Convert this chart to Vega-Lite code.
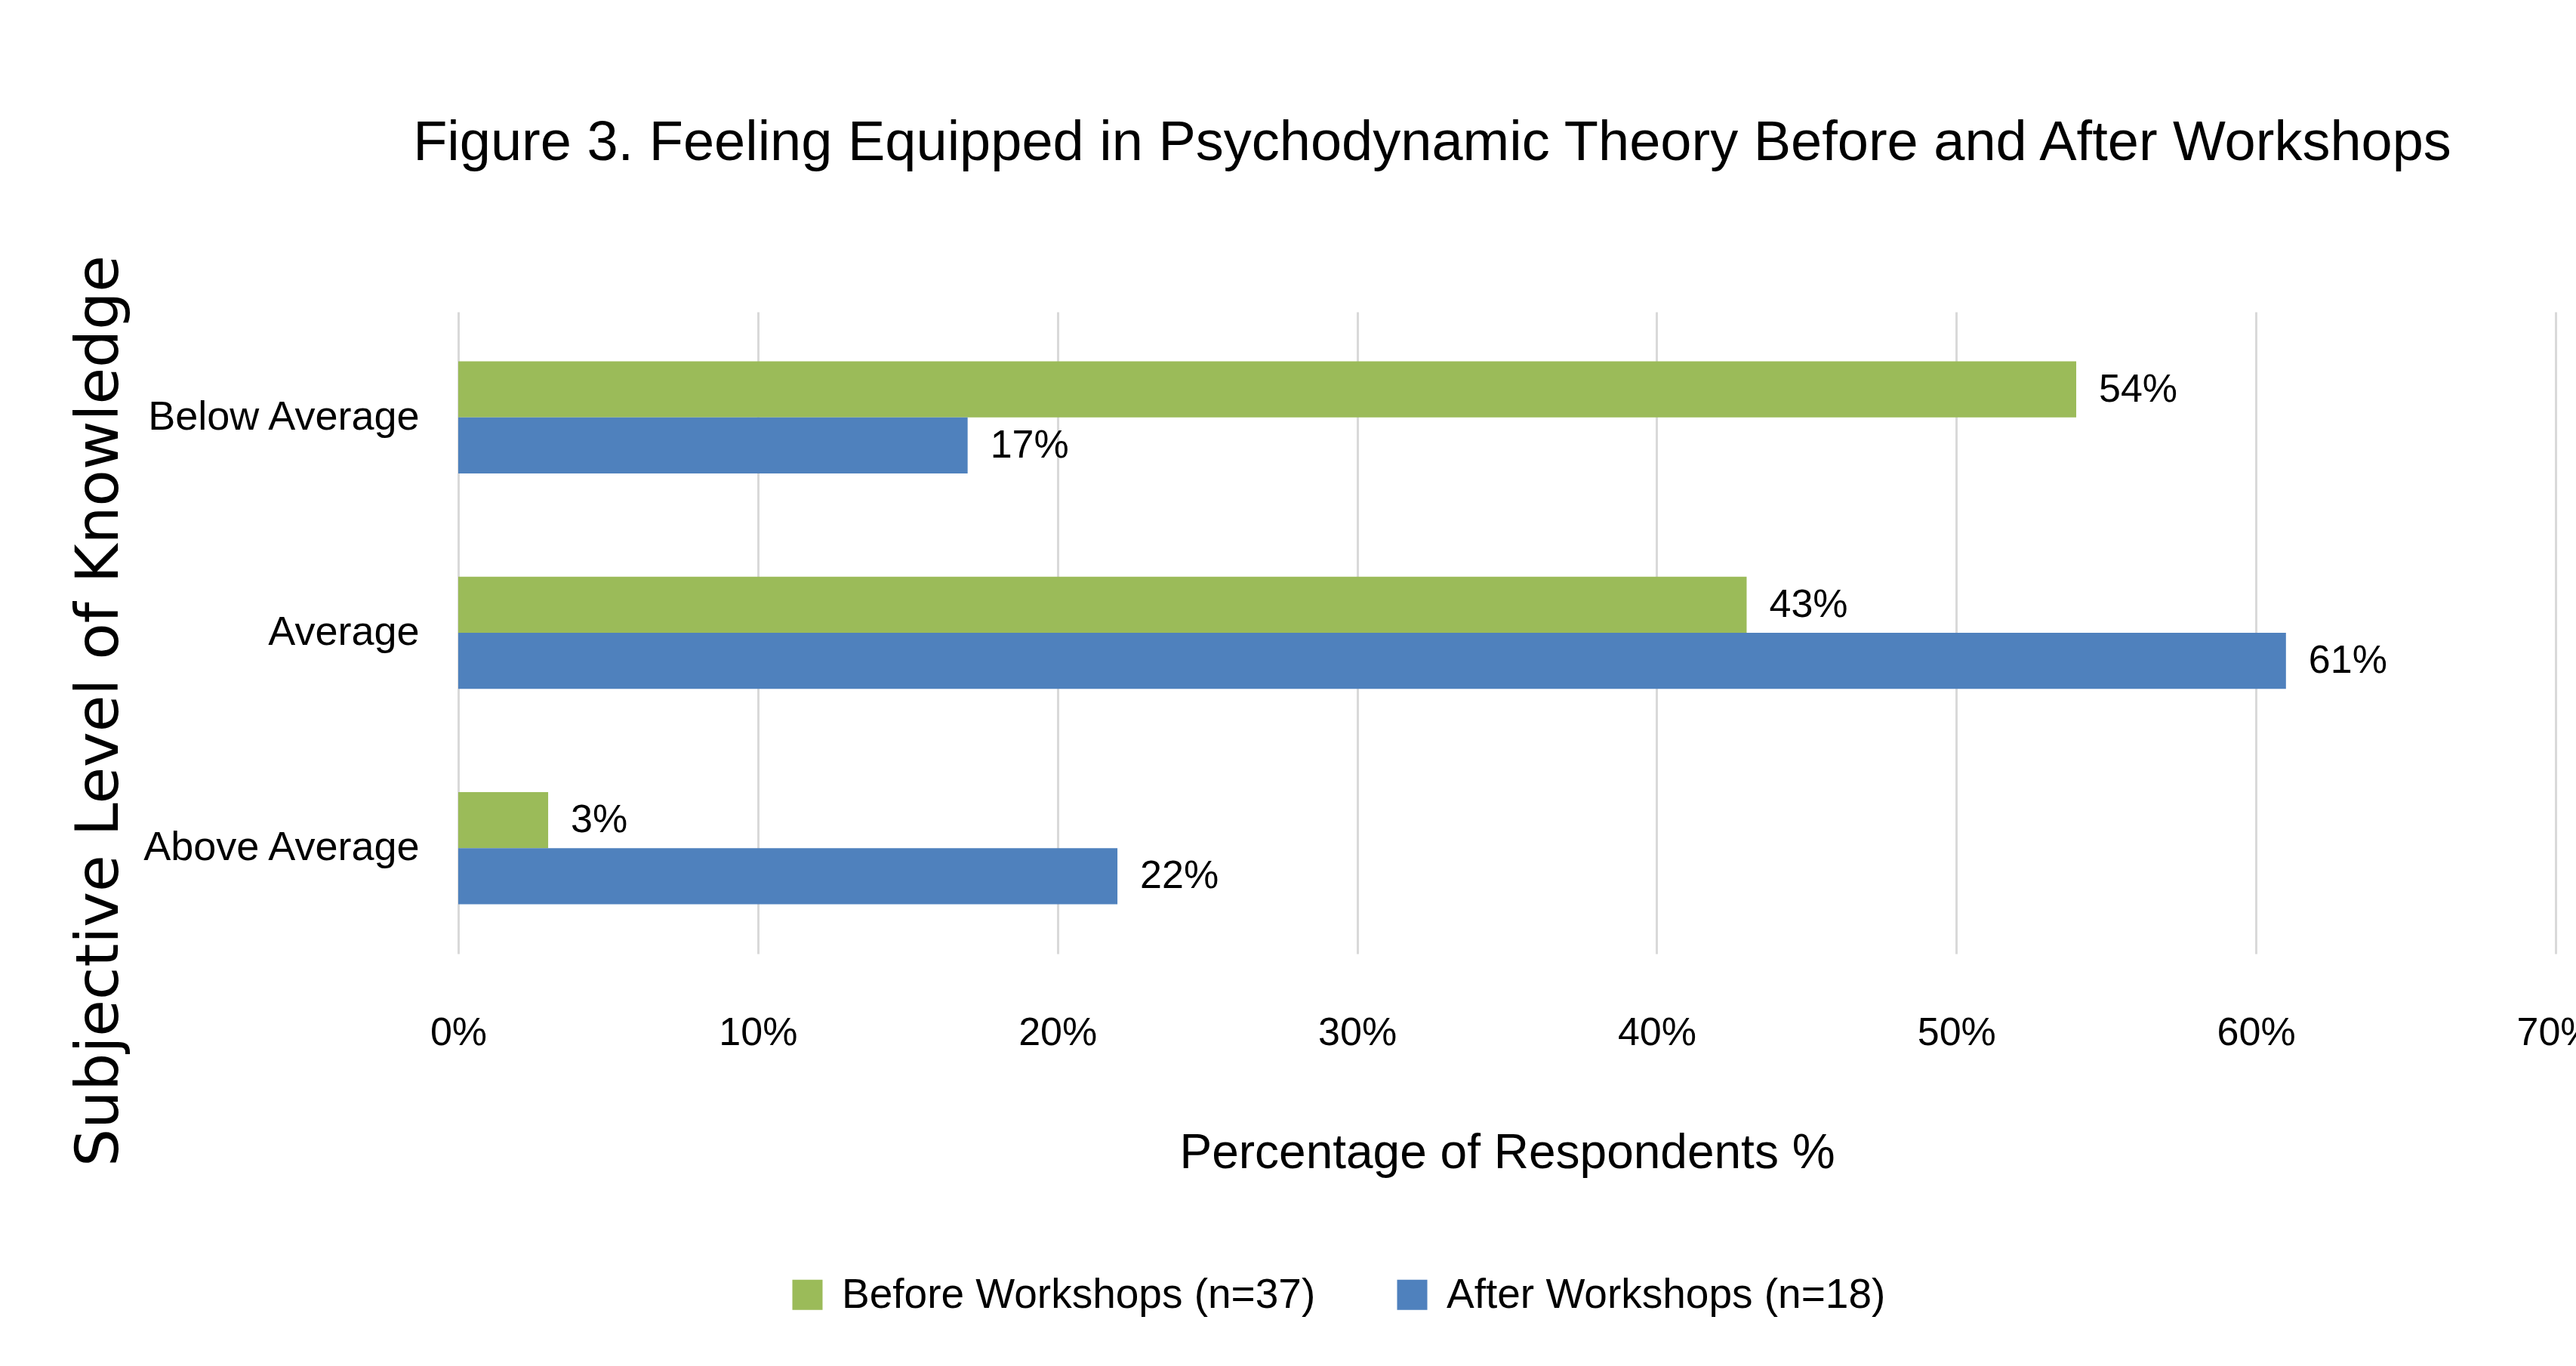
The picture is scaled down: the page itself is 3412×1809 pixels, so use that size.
{
  "$schema": "https://vega.github.io/schema/vega-lite/v6.json",
  "width": 2778,
  "height": 850,
  "autosize": {"type": "none"},
  "padding": {"left": 607, "top": 413, "right": 27, "bottom": 546},
  "background": "white",
  "title": {
    "text": "Figure 3. Feeling Equipped in Psychodynamic Theory Before and After Workshops",
    "font": "Liberation Sans",
    "fontSize": 74,
    "fontWeight": "normal",
    "color": "#000000",
    "anchor": "middle",
    "dx": -99,
    "baseline": "alphabetic",
    "offset": 52
  },
  "config": {
    "view": {"stroke": null},
    "font": "Liberation Sans"
  },
  "data": {
    "values": [
      {"level": "Below Average", "group": "Before Workshops (n=37)", "pct": 0.54},
      {"level": "Below Average", "group": "After Workshops (n=18)", "pct": 0.17},
      {"level": "Average", "group": "Before Workshops (n=37)", "pct": 0.43},
      {"level": "Average", "group": "After Workshops (n=18)", "pct": 0.61},
      {"level": "Above Average", "group": "Before Workshops (n=37)", "pct": 0.03},
      {"level": "Above Average", "group": "After Workshops (n=18)", "pct": 0.22}
    ]
  },
  "encoding": {
    "y": {
      "field": "level",
      "type": "nominal",
      "sort": ["Below Average", "Average", "Above Average"],
      "scale": {"paddingInner": 0.48, "paddingOuter": 0.23},
      "axis": {
        "title": "Subjective Level of Knowledge",
        "titleFont": "DejaVu Sans",
        "titleFontSize": 79,
        "titleFontWeight": "normal",
        "titleColor": "#000000",
        "titleAngle": -90,
        "titleAlign": "center",
        "titleBaseline": "alphabetic",
        "titleX": -452,
        "titleY": 528,
        "labelFont": "Liberation Sans",
        "labelFontSize": 54,
        "labelColor": "#000000",
        "labelPadding": 52,
        "labelLimit": 1000,
        "ticks": false,
        "domain": false,
        "grid": false
      }
    },
    "yOffset": {
      "field": "group",
      "sort": ["Before Workshops (n=37)", "After Workshops (n=18)"],
      "scale": {"paddingInner": 0, "paddingOuter": 0}
    },
    "x": {
      "field": "pct",
      "type": "quantitative",
      "scale": {"domain": [0, 0.7], "nice": false},
      "axis": {
        "values": [0, 0.1, 0.2, 0.3, 0.4, 0.5, 0.6, 0.7],
        "format": ".0%",
        "title": "Percentage of Respondents %",
        "titleFont": "Liberation Sans",
        "titleFontSize": 64,
        "titleFontWeight": "normal",
        "titleColor": "#000000",
        "titleBaseline": "alphabetic",
        "titleY": 283,
        "labelFont": "Liberation Sans",
        "labelFontSize": 52,
        "labelColor": "#000000",
        "labelBaseline": "alphabetic",
        "labelPadding": 120,
        "labelFlush": false,
        "ticks": false,
        "domain": false,
        "grid": true,
        "gridColor": "#D9D9D9",
        "gridWidth": 3
      }
    }
  },
  "layer": [
    {
      "mark": {"type": "bar"},
      "encoding": {
        "color": {
          "field": "group",
          "type": "nominal",
          "sort": ["Before Workshops (n=37)", "After Workshops (n=18)"],
          "scale": {
            "domain": ["Before Workshops (n=37)", "After Workshops (n=18)"],
            "range": ["#9BBB59", "#4F81BD"]
          },
          "legend": {
            "title": null,
            "orient": "none",
            "direction": "horizontal",
            "legendX": 435,
            "legendY": 1274,
            "symbolType": "square",
            "symbolSize": 1600,
            "symbolStrokeWidth": 0,
            "symbolOpacity": 1,
            "labelFont": "Liberation Sans",
            "labelFontSize": 55,
            "labelColor": "#000000",
            "labelOffset": 18,
            "labelLimit": 1000,
            "columnPadding": 100
          }
        }
      }
    },
    {
      "mark": {
        "type": "text",
        "align": "left",
        "baseline": "middle",
        "dx": 30,
        "font": "Liberation Sans",
        "fontSize": 52,
        "color": "#000000"
      },
      "encoding": {
        "text": {"field": "pct", "type": "quantitative", "format": ".0%"}
      }
    }
  ]
}
